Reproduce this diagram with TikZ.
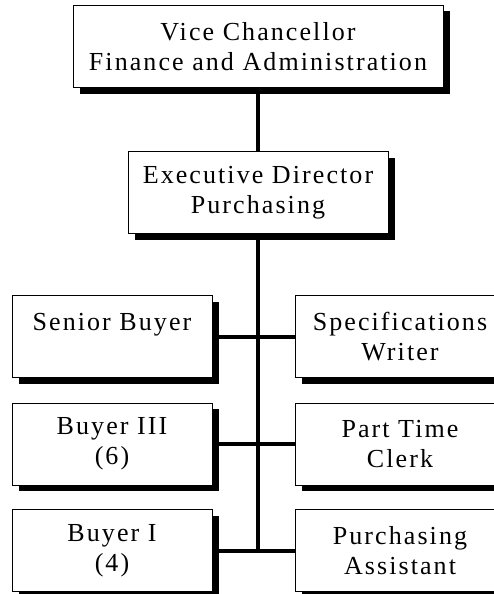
\documentclass[tikz,border=0pt]{standalone}
\usepackage{fontspec}
\setmainfont{Liberation Serif}[LetterSpace=8]
\usetikzlibrary{shadows}

\tikzset{
  office/.style={draw, line width=1pt, fill=white, align=center, inner sep=0pt,
    minimum height=82pt, font=\fontsize{26}{30}\selectfont,
    drop shadow={shadow xshift=7pt, shadow yshift=-6pt, opacity=1, fill=black}},
  link/.style={line width=4pt}
}

\begin{document}
\begin{tikzpicture}[x=1pt,y=-1pt]
  \useasboundingbox (0,0) rectangle (494,594);
  \clip (0,0) rectangle (494,594);
  % top of the chart
  \node[office, minimum width=370pt] (vc) at (258,46.5) {Vice Chancellor\\Finance and Administration};
  \node[office, minimum width=260pt] (ed) at (258,192.5) {Executive Director\\Purchasing};
  % left column
  \node[office, minimum width=200pt] (sb) at (112,336.5) {Senior Buyer\\\mbox{}};
  \node[office, minimum width=200pt] (bt) at (112,444) {Buyer III\\(6)};
  \node[office, minimum width=200pt] (bo) at (112,550.5) {Buyer I\\(4)};
  % right column
  \node[office, minimum width=210pt] (sw) at (400,336.5) {Specifications\\Writer};
  \node[office, minimum width=210pt] (pt) at (400,444) {Part Time\\Clerk};
  \node[office, minimum width=210pt] (pa) at (400,550.5) {Purchasing\\Assistant};
  % connectors
  \draw[link] (vc) -- (ed);
  \draw[link] (ed.south) -- (ed.south |- bo.east);
  \draw[link] (sb.east) -- (sw.west);
  \draw[link] (bt.east) -- (pt.west);
  \draw[link] (bo.east) -- (pa.west);
\end{tikzpicture}
\end{document}
